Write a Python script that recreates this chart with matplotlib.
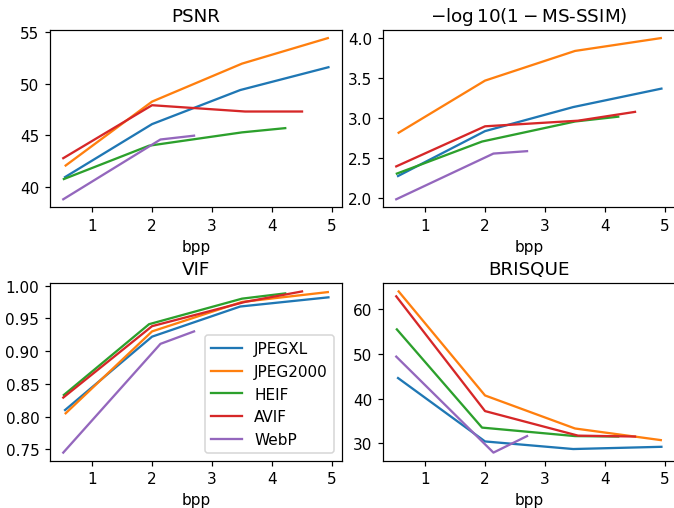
import matplotlib
matplotlib.use('Agg')
import matplotlib.pyplot as plt
import numpy as np

codecs = ["JPEGXL", "JPEG2000", "HEIF", "AVIF", "WebP"]

# bits per pixel for each codec
bpp = {
    "JPEGXL":   [0.55, 2.0, 3.47, 4.94],
    "JPEG2000": [0.56, 2.0, 3.5, 4.93],
    "HEIF":     [0.53, 1.95, 3.5, 4.22],
    "AVIF":     [0.52, 2.0, 3.55, 4.5],
    "WebP":     [0.52, 2.14, 2.7],
}

psnr = {
    "JPEGXL":   [40.96, 46.09, 49.39, 51.6],
    "JPEG2000": [42.08, 48.27, 51.95, 54.42],
    "HEIF":     [40.77, 44.0, 45.29, 45.7],
    "AVIF":     [42.79, 47.92, 47.31, 47.31],
    "WebP":     [38.81, 44.6, 44.97],
}

msssim = {
    "JPEGXL":   [2.28, 2.84, 3.14, 3.37],
    "JPEG2000": [2.82, 3.47, 3.84, 4.0],
    "HEIF":     [2.31, 2.71, 2.96, 3.02],
    "AVIF":     [2.40, 2.90, 2.97, 3.08],
    "WebP":     [1.99, 2.56, 2.59],
}

vif = {
    "JPEGXL":   [0.81, 0.922, 0.968, 0.982],
    "JPEG2000": [0.805, 0.93, 0.975, 0.99],
    "HEIF":     [0.833, 0.941, 0.98, 0.988],
    "AVIF":     [0.829, 0.938, 0.975, 0.991],
    "WebP":     [0.745, 0.911, 0.93],
}

brisque = {
    "JPEGXL":   [44.6, 30.4, 28.7, 29.2],
    "JPEG2000": [64.0, 40.7, 33.3, 30.7],
    "HEIF":     [55.5, 33.5, 31.6, 31.5],
    "AVIF":     [62.9, 37.2, 31.7, 31.5],
    "WebP":     [49.4, 27.9, 31.6],
}

metrics = [("PSNR", psnr),
           (r"$-\log10(1-$MS-SSIM$)$", msssim),
           ("VIF", vif),
           ("BRISQUE", brisque)]

fig, axes = plt.subplots(2, 2, figsize=(674/110, 509/110), dpi=110)
fig.subplots_adjust(left=0.0742, right=1.001, top=0.939, bottom=0.093,
                    wspace=0.1416, hspace=0.429)

for ax, (title, data) in zip(axes.flat, metrics):
    for c in codecs:
        ax.plot(bpp[c], data[c], label=c)
    ax.set_title(title)
    ax.set_xlabel('bpp')
    ax.set_xticks([1, 2, 3, 4, 5])

axes[0, 1].set_yticks(np.arange(2.0, 4.01, 0.5))
axes[1, 0].set_yticks(np.arange(0.75, 1.001, 0.05))
axes[1, 0].legend(loc='lower right')

plt.savefig('out.png')
